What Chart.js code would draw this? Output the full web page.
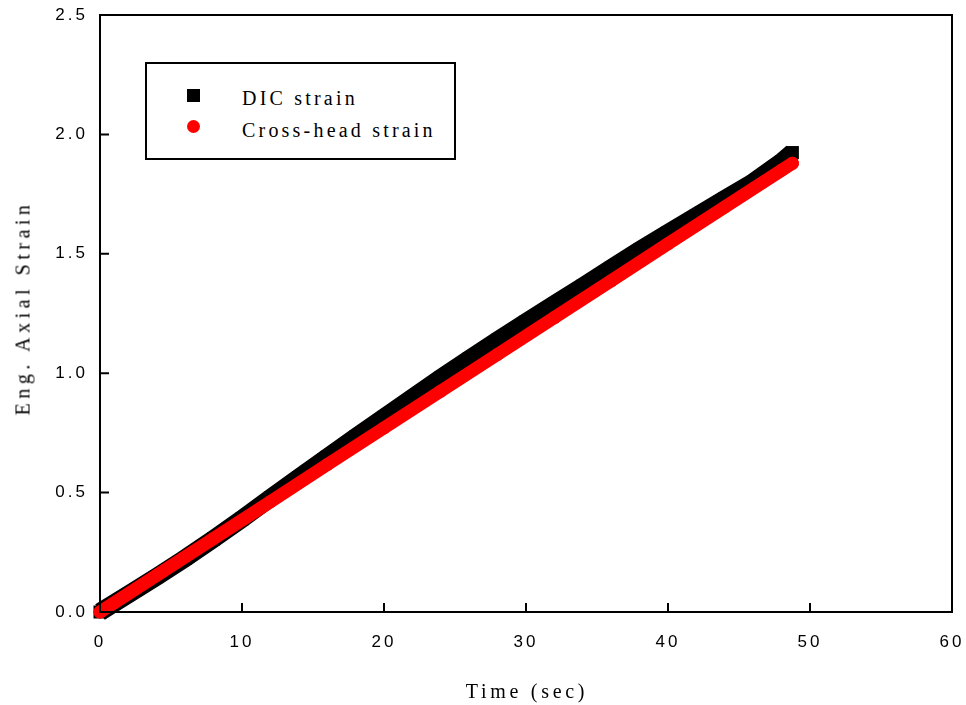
<!DOCTYPE html>
<html lang="en">
<head>
    <meta charset="UTF-8">
    <title>Eng. Axial Strain vs Time</title>
    <script src="https://cdn.jsdelivr.net/npm/chart.js"></script>
    <style>
        body { margin: 0; background: #fff; }
        .wrap { position: relative; width: 966px; height: 705px; }
        .legend { position: absolute; left: 145px; top: 62px; width: 311px; height: 98px; border: 2px solid #000; box-sizing: border-box; background: #fff; }
        .mk { position: absolute; width: 13px; height: 13px; }
        .mk.sq { left: 187px; top: 89px; background: #000; }
        .mk.dot { left: 187px; top: 120px; background: #f00; border-radius: 50%; }
        .lbl { position: absolute; left: 242px; font-family: 'Liberation Serif', serif; font-size: 20px; line-height: 20px; letter-spacing: 3.2px; color: #000; white-space: nowrap; }
        .ytitle { position: absolute; left: 23px; top: 308px; transform: translate(-50%, -50%) rotate(-90deg); font-family: 'Liberation Serif', serif; font-size: 20px; letter-spacing: 4.5px; white-space: nowrap; }
        .xtitle { position: absolute; left: 527px; top: 691px; transform: translate(-50%, -50%); font-family: 'Liberation Serif', serif; font-size: 20px; letter-spacing: 3.7px; white-space: nowrap; }
    </style>
</head>
<body>
<div class="wrap">
    <canvas id="strainChart" width="966" height="705"></canvas>

    <!-- legend box -->
    <div class="legend"></div>
    <span class="mk sq"></span>
    <span class="mk dot"></span>
    <span class="lbl" style="top: 88px;">DIC strain</span>
    <span class="lbl" style="top: 120px;">Cross-head strain</span>

    <div class="ytitle">Eng. Axial Strain</div>
    <div class="xtitle">Time (sec)</div>
</div>

<script>
// DIC measurement
const timeDIC = [0, 2, 4, 6, 8, 10, 12, 14, 16, 18, 20, 22, 24, 26, 28, 30, 32, 34, 36, 38, 40, 42, 44, 46, 48, 48.76];
const strainDIC = [0, 0.074, 0.148, 0.225, 0.306, 0.390, 0.477, 0.563, 0.648, 0.732, 0.815, 0.898, 0.980, 1.060, 1.138, 1.214, 1.289, 1.364, 1.440, 1.515, 1.587, 1.658, 1.730, 1.800, 1.885, 1.924];

// cross-head displacement
const timeCH = [0, 4, 8, 12, 16, 20, 24, 28, 32, 36, 40, 44, 48, 48.76];
const strainCH = [0, 0.154, 0.308, 0.462, 0.617, 0.771, 0.925, 1.079, 1.233, 1.387, 1.542, 1.696, 1.850, 1.879];

const xTicks = [0, 10, 20, 30, 40, 50, 60];
const yTicks = [0, 0.5, 1.0, 1.5, 2.0, 2.5];

const toPoints = (xs, ys) => xs.map((x, i) => ({ x: x, y: ys[i] }));

// keep the plot box fixed: no extra room reserved for edge labels
const noEdgePadding = s => {
    s.paddingTop = 0;
    s.paddingBottom = 0;
    s.paddingLeft = 0;
    s.paddingRight = 0;
};

// spaced-out tick lettering + framed plot with inward ticks
const framePlugin = {
    id: 'frame',
    beforeDraw(chart) {
        chart.ctx.letterSpacing = '3px';
    },
    afterDraw(chart) {
        const { ctx, chartArea: a, scales } = chart;
        ctx.save();
        ctx.letterSpacing = '0px';
        ctx.strokeStyle = '#000';
        ctx.lineWidth = 2;
        ctx.strokeRect(a.left, a.top, a.right - a.left, a.bottom - a.top);
        ctx.beginPath();
        xTicks.forEach(v => {
            const px = scales.x.getPixelForValue(v);
            ctx.moveTo(px, a.bottom);
            ctx.lineTo(px, a.bottom - 9);
        });
        yTicks.forEach(v => {
            const py = scales.y.getPixelForValue(v);
            ctx.moveTo(a.left, py);
            ctx.lineTo(a.left + 9, py);
        });
        ctx.stroke();
        ctx.restore();
    }
};

new Chart(document.getElementById('strainChart').getContext('2d'), {
    type: 'scatter',
    data: {
        datasets: [{
            label: 'DIC strain',
            data: toPoints(timeDIC, strainDIC),
            showLine: true,
            borderColor: '#000',
            backgroundColor: '#000',
            borderWidth: 18,
            borderJoinStyle: 'miter',
            pointStyle: 'rect',
            pointRadius: 9.2,
            pointBorderWidth: 0,
            clip: false,
            order: 2
        }, {
            label: 'Cross-head strain',
            data: toPoints(timeCH, strainCH),
            showLine: true,
            borderColor: '#f00',
            backgroundColor: '#f00',
            borderWidth: 13,
            borderCapStyle: 'round',
            borderJoinStyle: 'round',
            pointStyle: 'circle',
            pointRadius: 6.5,
            pointBorderWidth: 0,
            clip: false,
            order: 1
        }]
    },
    options: {
        responsive: false,
        animation: false,
        layout: { padding: { top: 15, right: 14, left: 0, bottom: 0 } },
        plugins: {
            legend: { display: false },
            tooltip: { enabled: false }
        },
        scales: {
            x: {
                type: 'linear',
                min: 0,
                max: 60,
                afterFit: s => { s.height = 93; noEdgePadding(s); },
                afterBuildTicks: s => { s.ticks = xTicks.map(v => ({ value: v })); },
                grid: { display: false, drawTicks: false },
                border: { display: false },
                ticks: {
                    color: '#000',
                    padding: 20,
                    maxRotation: 0,
                    font: { family: 'Liberation Sans', size: 17 }
                }
            },
            y: {
                type: 'linear',
                min: 0,
                max: 2.5,
                afterFit: s => { s.width = 100; noEdgePadding(s); },
                afterBuildTicks: s => { s.ticks = yTicks.map(v => ({ value: v })); },
                grid: { display: false, drawTicks: false },
                border: { display: false },
                ticks: {
                    color: '#000',
                    padding: 12,
                    font: { family: 'Liberation Sans', size: 17 },
                    callback: v => Number(v).toFixed(1)
                }
            }
        }
    },
    plugins: [framePlugin]
});
</script>
</body>
</html>
